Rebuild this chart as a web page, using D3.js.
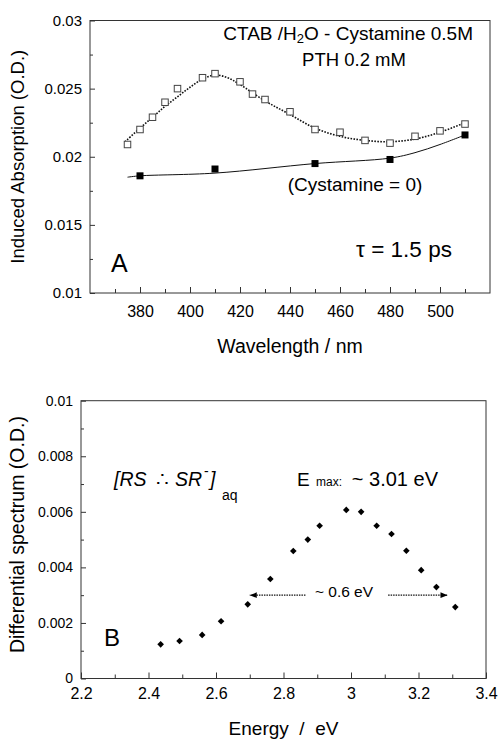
<!DOCTYPE html>
<html><head><meta charset="utf-8">
<script src="https://cdn.jsdelivr.net/npm/d3@7"></script>
<style>
html,body{margin:0;padding:0;background:#fff;}
svg{display:block;font-family:"Liberation Sans",Arial,Helvetica,sans-serif;}
</style></head>
<body>
<script>
// ---------- Panel A data ----------
const wlOpen = [375,380,385,390,395,405,410,420,425,430,440,450,460,470,480,490,500,510];
const absOpen = [0.0209,0.0220,0.0229,0.0240,0.0250,0.0258,0.0261,0.0255,0.0246,0.0242,0.0233,0.0220,0.0218,0.0212,0.0210,0.0215,0.0219,0.0224];
const wlFilled = [380,410,450,480,510];
const absFilled = [0.0186,0.0191,0.0195,0.0198,0.0216];
const wlFitOpen = [374,380,385,390,395,400,405,410,415,420,430,440,450,460,470,480,490,500,510];
const absFitOpen = [0.0211,0.0221,0.0229,0.0237,0.0244,0.0251,0.0257,0.0260,0.0258,0.0253,0.0241,0.0231,0.0221,0.0215,0.0212,0.0211,0.0213,0.0218,0.0225];
const wlFitFilled = [375,380,410,450,480,490,500,510];
const absFitFilled = [0.0185,0.0186,0.0188,0.0195,0.0199,0.0203,0.0209,0.0216];
const wlTicks = [380,400,420,440,460,480,500];
const absTicks = [0.01,0.015,0.02,0.025,0.03];
const absTickLabels = ["0.01","0.015","0.02","0.025","0.03"];

// ---------- Panel B data ----------
const energy = [2.436,2.492,2.559,2.615,2.694,2.761,2.829,2.872,2.907,2.986,3.030,3.076,3.120,3.164,3.208,3.253,3.309];
const diffSpec = [0.00123,0.00135,0.00157,0.00206,0.00267,0.00358,0.00459,0.00500,0.00550,0.00607,0.00600,0.00550,0.00520,0.00460,0.00390,0.00329,0.00257];
const energyTicks = [2.2,2.4,2.6,2.8,3.0,3.2,3.4];
const energyTickLabels = ["2.2","2.4","2.6","2.8","3","3.2","3.4"];
const diffTicks = [0,0.002,0.004,0.006,0.008,0.01];
const diffTickLabels = ["0","0.002","0.004","0.006","0.008","0.01"];
const arrowLeft = [2.865, 2.700];   // from, to (eV)
const arrowRight = [3.110, 3.286];  // from, to (eV)
const arrowLevel = 0.0030;

const W = 498, H = 741;
const svg = d3.select("body").append("svg").attr("width", W).attr("height", H);
svg.append("rect").attr("width", W).attr("height", H).attr("fill", "#fff");

const defs = svg.append("defs");
const mk = defs.append("marker").attr("id", "arr").attr("viewBox","0 0 10 10")
  .attr("refX", 10).attr("refY",5).attr("markerWidth",9).attr("markerHeight",7)
  .attr("markerUnits","userSpaceOnUse").attr("orient","auto");
mk.append("path").attr("d","M0,1 L10,5 L0,9 Z").attr("fill","#000");

function frame(g, x0, x1, y0, y1){
  g.append("rect").attr("x", x0).attr("y", y0).attr("width", x1-x0).attr("height", y1-y0)
    .attr("fill","none").attr("stroke","#333").attr("stroke-width",1);
}
function styleAxis(a, fs){
  a.select(".domain").remove();
  a.selectAll(".tick line").attr("stroke","#333");
  a.selectAll("text").attr("font-size", fs).attr("fill","#000").attr("font-family","Liberation Sans, Arial, sans-serif");
}

// ================= Panel A =================
{
  const x0=90, x1=490, y0=20.5, y1=293;
  const x = d3.scaleLinear().domain([360,520]).range([x0,x1]);
  const y = d3.scaleLinear().domain([0.01,0.03]).range([y1,y0]);
  const g = svg.append("g");
  frame(g, x0, x1, y0, y1);

  const minorX = d3.range(370, 520, 10).filter(v => !wlTicks.includes(v));
  g.append("g").attr("transform",`translate(0,${y1})`)
    .call(d3.axisBottom(x).tickValues(minorX).tickFormat("").tickSizeInner(-4).tickSizeOuter(0))
    .call(a=>styleAxis(a,16));
  g.append("g").attr("transform",`translate(0,${y1})`)
    .call(d3.axisBottom(x).tickValues(wlTicks).tickFormat(d3.format("d")).tickSizeInner(-6).tickSizeOuter(0).tickPadding(13))
    .call(a=>styleAxis(a,16));
  const minorY = [0.0125,0.0175,0.0225,0.0275];
  g.append("g").attr("transform",`translate(${x0},0)`)
    .call(d3.axisLeft(y).tickValues(minorY).tickFormat("").tickSizeInner(-3).tickSizeOuter(0))
    .call(a=>styleAxis(a,15));
  g.append("g").attr("transform",`translate(${x0},0)`)
    .call(d3.axisLeft(y).tickValues(absTicks).tickFormat((d,i)=>absTickLabels[i]).tickSizeInner(-5).tickSizeOuter(0).tickPadding(8))
    .call(a=>styleAxis(a,15));

  const line = d3.line().x(d=>x(d[0])).y(d=>y(d[1])).curve(d3.curveCatmullRom);
  g.append("path").attr("d", line(d3.zip(wlFitOpen, absFitOpen)))
    .attr("fill","none").attr("stroke","#111").attr("stroke-width",1.6).attr("stroke-dasharray","1.6,1.4");
  g.append("path").attr("d", line(d3.zip(wlFitFilled, absFitFilled)))
    .attr("fill","none").attr("stroke","#111").attr("stroke-width",1);

  const s = 6.5;
  g.selectAll(".os").data(d3.zip(wlOpen, absOpen)).join("rect")
    .attr("x", d=>x(d[0])-s/2).attr("y", d=>y(d[1])-s/2).attr("width", s).attr("height", s)
    .attr("fill","#fff").attr("stroke","#444").attr("stroke-width",1);
  const f = 7;
  g.selectAll(".fs").data(d3.zip(wlFilled, absFilled)).join("rect")
    .attr("x", d=>x(d[0])-f/2).attr("y", d=>y(d[1])-f/2).attr("width", f).attr("height", f)
    .attr("fill","#000");

  const t1 = g.append("text").attr("x", 473).attr("y", 40).attr("text-anchor","end").attr("font-size",19);
  t1.append("tspan").text("CTAB /H");
  t1.append("tspan").attr("font-size",13).attr("dy",3).text("2");
  t1.append("tspan").attr("dy",-3).text("O - Cystamine 0.5M");
  g.append("text").attr("x", 354).attr("y", 66).attr("text-anchor","middle").attr("font-size",18.5).text("PTH 0.2 mM");
  g.append("text").attr("x", 355).attr("y", 191).attr("text-anchor","middle").attr("font-size",19).text("(Cystamine = 0)");
  g.append("text").attr("x", 404).attr("y", 257).attr("text-anchor","middle").attr("font-size",22.5).text("τ = 1.5 ps");
  g.append("text").attr("x", 111).attr("y", 272).attr("font-size",25).text("A");

  g.append("text").attr("x", (x0+x1)/2).attr("y", 353).attr("text-anchor","middle").attr("font-size",19.5).text("Wavelength / nm");
  g.append("text").attr("transform",`translate(24,${(y0+y1)/2}) rotate(-90)`).attr("text-anchor","middle")
    .attr("font-size",18.5).text("Induced Absorption (O.D.)");
}

// ================= Panel B =================
{
  const x0=81, x1=486, y0=400.7, y1=678.5;
  const x = d3.scaleLinear().domain([2.2,3.4]).range([x0,x1]);
  const y = d3.scaleLinear().domain([0,0.01]).range([y1,y0]);
  const g = svg.append("g");
  frame(g, x0, x1, y0, y1);

  const minorX = [2.3,2.5,2.7,2.9,3.1,3.3];
  g.append("g").attr("transform",`translate(0,${y1})`)
    .call(d3.axisBottom(x).tickValues(minorX).tickFormat("").tickSizeInner(-4).tickSizeOuter(0))
    .call(a=>styleAxis(a,16));
  g.append("g").attr("transform",`translate(0,${y1})`)
    .call(d3.axisBottom(x).tickValues(energyTicks).tickFormat((d,i)=>energyTickLabels[i]).tickSizeInner(-6).tickSizeOuter(0).tickPadding(9))
    .call(a=>styleAxis(a,16));
  const minorY = [0.001,0.003,0.005,0.007,0.009];
  g.append("g").attr("transform",`translate(${x0},0)`)
    .call(d3.axisLeft(y).tickValues(minorY).tickFormat("").tickSizeInner(-3).tickSizeOuter(0))
    .call(a=>styleAxis(a,14));
  g.append("g").attr("transform",`translate(${x0},0)`)
    .call(d3.axisLeft(y).tickValues(diffTicks).tickFormat((d,i)=>diffTickLabels[i]).tickSizeInner(-5).tickSizeOuter(0).tickPadding(8))
    .call(a=>styleAxis(a,14));

  const sym = d3.symbol().type(d3.symbolDiamond2).size(28);
  g.selectAll(".dm").data(d3.zip(energy, diffSpec)).join("path")
    .attr("transform", d=>`translate(${x(d[0])},${y(d[1])})`).attr("d", sym).attr("fill","#000");

  [arrowLeft, arrowRight].forEach(a=>{
    g.append("line").attr("x1", x(a[0])).attr("x2", x(a[1])).attr("y1", y(arrowLevel)).attr("y2", y(arrowLevel))
      .attr("stroke","#111").attr("stroke-width",1.3).attr("stroke-dasharray","1.5,1")
      .attr("marker-end","url(#arr)");
  });
  g.append("text").attr("x", 344).attr("y", 597).attr("text-anchor","middle").attr("font-size",15.5).text("~ 0.6 eV");

  g.append("text").attr("x", 297).attr("y", 486).attr("font-size",19).text("E");
  g.append("text").attr("x", 316).attr("y", 486).attr("font-size",12).text("max:");
  g.append("text").attr("x", 438).attr("y", 486).attr("text-anchor","end").attr("font-size",20).text("~ 3.01 eV");

  g.append("text").attr("x", 114).attr("y", 486).attr("font-size",19.5).attr("font-style","italic").text("[RS");
  g.append("text").attr("x", 162).attr("y", 486).attr("text-anchor","middle").attr("font-size",19.5).text("∴");
  g.append("text").attr("x", 175).attr("y", 486).attr("font-size",19.5).attr("font-style","italic").text("SR");
  g.append("text").attr("x", 204).attr("y", 476).attr("font-size",14).text("-");
  g.append("text").attr("x", 210).attr("y", 486).attr("font-size",19.5).attr("font-style","italic").text("]");
  g.append("text").attr("x", 222).attr("y", 500).attr("font-size",14).text("aq");

  g.append("text").attr("x", 104).attr("y", 646).attr("font-size",24).text("B");

  g.append("text").attr("x", (x0+x1)/2).attr("y", 735).attr("text-anchor","middle").attr("font-size",19)
    .attr("xml:space","preserve").text("Energy  /  eV");
  g.append("text").attr("transform",`translate(24,${(y0+y1)/2-5}) rotate(-90)`).attr("text-anchor","middle")
    .attr("font-size",19.5).text("Differential spectrum  (O.D.)");
}
</script>
</body></html>
